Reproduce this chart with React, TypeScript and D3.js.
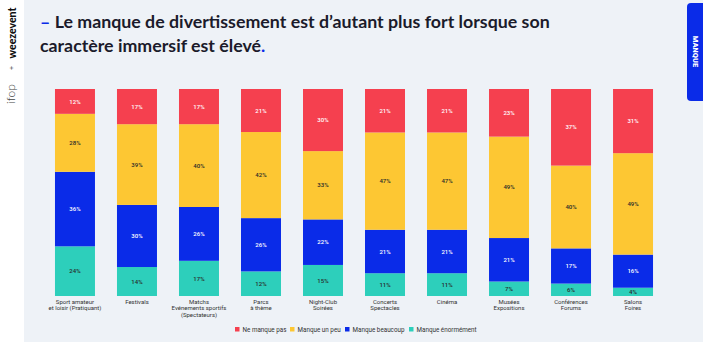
import React from "react";
import * as d3 from "d3";

const categories = [
  "Sport amateur\net loisir (Pratiquant)",
  "Festivals",
  "Matchs\nEvénements sportifs\n(Spectateurs)",
  "Parcs\nà thème",
  "Night-Club\nSoirées",
  "Concerts\nSpectacles",
  "Cinéma",
  "Musées\nExpositions",
  "Conférences\nForums",
  "Salons\nFoires",
];
const neManquePas = [12, 17, 17, 21, 30, 21, 21, 23, 37, 31];
const manqueUnPeu = [28, 39, 40, 42, 33, 47, 47, 49, 40, 49];
const manqueBeaucoup = [36, 30, 26, 26, 22, 21, 21, 21, 17, 16];
const manqueEnormement = [24, 14, 17, 12, 15, 11, 11, 7, 6, 4];

const seriesNames = ["Ne manque pas", "Manque un peu", "Manque beaucoup", "Manque énormément"];
const seriesKeys = ["s0", "s1", "s2", "s3"];
const seriesColors = ["#f5404f", "#fdc733", "#0a2be8", "#2dcfbb"];
const labelColors = ["#ffffff", "#2a2a2a", "#ffffff", "#2a2a2a"];

export default function App() {
  const W = 703, H = 342;
  const data = categories.map((c, i) => ({
    cat: c,
    s0: neManquePas[i],
    s1: manqueUnPeu[i],
    s2: manqueBeaucoup[i],
    s3: manqueEnormement[i],
  }));
  // stack bottom to top: énormément, beaucoup, un peu, pas
  const keys = ["s3", "s2", "s1", "s0"];
  const stack = d3.stack<any>().keys(keys).offset(d3.stackOffsetExpand);
  const stacked = stack(data);

  const x = d3.scaleBand<string>().domain(categories).range([44, 664]).paddingInner(0.355).paddingOuter(0.177);
  const y = d3.scaleLinear().domain([0, 1]).range([296, 89]);

  const legendX = [235, 290, 345, 409];
  const font = "Roboto, 'Noto Sans', sans-serif";

  return (
    <svg width={W} height={H} style={{ position: "absolute", left: 0, top: 0, display: "block" }}>
      <rect x={0} y={0} width={W} height={H} fill="#eef2f7" />
      <rect x={0} y={0} width={24} height={H} fill="#ffffff" />
      <text transform="translate(15.5,33) rotate(-90)" textAnchor="middle" fontFamily="Lato, sans-serif" fontWeight={900} fontSize={10.5} fill="#111">weezevent</text>
      <text transform="translate(14,68) rotate(-90)" textAnchor="middle" fontFamily={font} fontSize={7} fill="#555">+</text>
      <text transform="translate(15,94) rotate(-90)" textAnchor="middle" fontFamily="Lato, sans-serif" fontWeight={300} fontSize={12} fill="#444">ifop</text>

      <path d="M703,3 L691,3 Q687,3 687,7 L687,97 Q687,101 691,101 L703,101 Z" fill="#0a2be8" />
      <text transform="translate(692.5,51.5) rotate(90)" textAnchor="middle" fontFamily={font} fontWeight={900} fontSize={7.5} fill="#fff">MANQUE</text>

      <text x={40} y={28} fontFamily="Lato, sans-serif" fontWeight={700} fontSize={17.8} fill="#1b1b2b">
        <tspan fill="#0a2be8">–</tspan> Le manque de divertissement est d’autant plus fort lorsque son
      </text>
      <text x={40} y={52} fontFamily="Lato, sans-serif" fontWeight={700} fontSize={17.8} fill="#1b1b2b">
        caractère immersif est élevé<tspan fill="#0a2be8">.</tspan>
      </text>

      {stacked.map((layer) => {
        const si = seriesKeys.indexOf(layer.key);
        return (
          <g key={layer.key}>
            {layer.map((d, i) => {
              const x0 = x(d.data.cat)!;
              const y0 = y(d[1]);
              const y1 = y(d[0]);
              const v = (d.data as any)[layer.key];
              return (
                <g key={i}>
                  <rect x={x0} y={y0} width={x.bandwidth()} height={y1 - y0} fill={seriesColors[si]} />
                  <text x={x0 + x.bandwidth() / 2} y={(y0 + y1) / 2} dy="0.35em" textAnchor="middle" fontFamily={font} fontWeight={500} fontSize={6} fill={labelColors[si]}>
                    {v}%
                  </text>
                </g>
              );
            })}
          </g>
        );
      })}

      {categories.map((c) =>
        c.split("\n").map((line, j) => (
          <text key={c + j} x={x(c)! + x.bandwidth() / 2} y={304 + j * 6.4} textAnchor="middle" fontFamily={font} fontSize={6} fill="#333">
            {line}
          </text>
        ))
      )}

      {seriesNames.map((n, i) => (
        <g key={n}>
          <rect x={legendX[i]} y={327} width={4.5} height={4.5} fill={seriesColors[i]} />
          <text x={legendX[i] + 7.5} y={329.3} dy="0.35em" fontFamily={font} fontSize={6.3} fill="#333">{n}</text>
        </g>
      ))}
    </svg>
  );
}
